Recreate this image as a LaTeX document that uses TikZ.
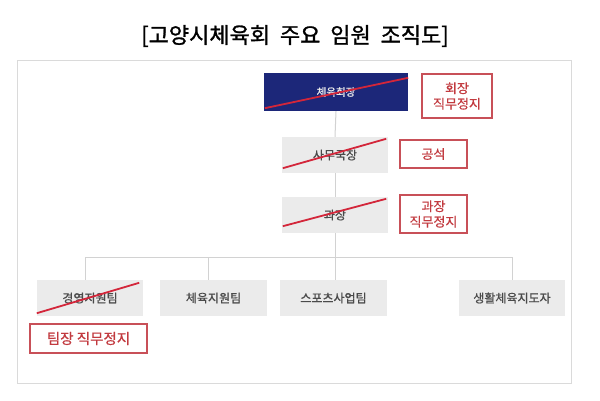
\documentclass[tikz,border=0pt]{standalone}
\usepackage{fontspec}
\setmainfont{Noto Sans CJK KR}
\newfontfamily\krmed[FakeBold=0.9]{Noto Sans CJK KR}
\newfontfamily\krsemi[FakeBold=0.5]{Noto Sans CJK KR}
\newfontfamily\krtitle[FakeBold=1.2]{Noto Sans CJK KR}
\usetikzlibrary{calc}
\definecolor{navy}{HTML}{1C2779}
\definecolor{boxgray}{HTML}{EBEBEB}
\definecolor{linegray}{HTML}{D2D2D2}
\definecolor{framegray}{HTML}{DADADA}
\definecolor{redtxt}{HTML}{C23A3F}
\definecolor{redline}{HTML}{D3263A}
\definecolor{redborder}{HTML}{C85058}
\definecolor{txtgray}{HTML}{4A4A4A}
\tikzset{
  graybox/.style={fill=boxgray, draw=none, inner sep=0pt, minimum height=36pt,
    text=txtgray, font=\krmed\fontsize{12}{14}\selectfont},
  topbox/.style={fill=navy, draw=none, inner sep=0pt, minimum width=144pt, minimum height=38pt,
    text=white!85!gray, font=\krmed\fontsize{10.5}{12}\selectfont},
  redbox/.style={draw=redborder, line width=1.1pt, fill=white, inner sep=0pt, align=center,
    text=redtxt, font=\krsemi\fontsize{13}{15.5}\selectfont},
  strike/.style={draw=redline, line width=1.8pt},
  conn/.style={draw=linegray, line width=1pt},
}
\begin{document}
\begin{tikzpicture}[x=1pt,y=-1pt]
\useasboundingbox (0,0) rectangle (600,401);
\fill[white] (0,0) rectangle (600,401);
\node (title) at (295,36) {\krtitle\fontsize{22}{25}\selectfont [고양시체육회\ \ 주요\ \ 임원\ \ 조직도]};
\draw[framegray, line width=1pt] (17,61) rectangle (571,383);

\node[topbox] (top) at (336,92) {체육회장};
\node[graybox, minimum width=106pt] (samu) at (335,155) {사무국장};
\node[graybox, minimum width=106pt] (gwa) at (335,215) {과장};
\node[graybox, minimum width=106pt] (t1) at (90,298) {경영지원팀};
\node[graybox, minimum width=107pt] (t2) at (213.5,298) {체육지원팀};
\node[graybox, minimum width=107pt] (t3) at (333.5,298) {스포츠사업팀};
\node[graybox, minimum width=106pt] (t4) at (512,298) {생활체육지도자};

\coordinate (d1) at (85,257);
\coordinate (d2) at (208,257);
\coordinate (d3) at (335,257);
\coordinate (d4) at (512,257);

\draw[conn] (top.south) -- (samu.north);
\draw[conn] (samu.south) -- (gwa.north);
\draw[conn] (gwa.south) -- (d3);
\draw[conn] (d1) -- (d4);
\draw[conn] (d1) -- (d1 |- t1.north);
\draw[conn] (d2) -- (d2 |- t2.north);
\draw[conn] (d3) -- (d3 |- t3.north);
\draw[conn] (d4) -- (t4.north);

\node[redbox, minimum width=70pt, minimum height=44pt] (r1) at (457,96) {회장\\직무정지};
\node[redbox, minimum width=67pt, minimum height=28pt] (r2) at (433.5,154) {공석};
\node[redbox, minimum width=67pt, minimum height=38pt] (r3) at (433.5,214) {과장\\직무정지};
\node[redbox, minimum width=117pt, minimum height=29pt, font=\krsemi\fontsize{14.5}{17}\selectfont] (r4) at (88.5,338.5) {팀장\ 직무정지};

\draw[strike] ($(top.south west)+(1,-3)$) -- ($(top.north east)+(0,5)$);
\draw[strike] ($(samu.south west)+(1,-5)$) -- ($(samu.north east)+(-2,2)$);
\draw[strike] ($(gwa.south west)+(1,-7)$) -- ($(gwa.north east)+(-2,2)$);
\draw[strike] ($(t1.south west)+(0,-3)$) -- ($(t1.north east)+(-4,3)$);
\end{tikzpicture}
\end{document}
